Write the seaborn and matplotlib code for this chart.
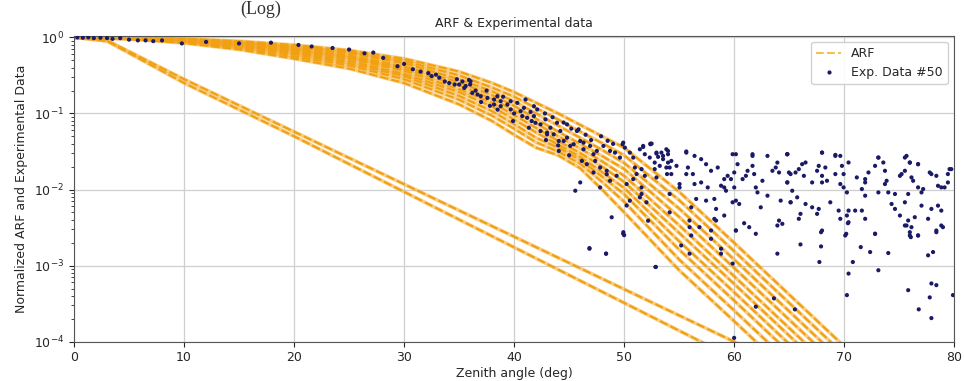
import numpy as np
import pandas as pd
import seaborn as sns
import matplotlib.pyplot as plt
from matplotlib.lines import Line2D

# ARF curves, log10 of the normalized value at these zenith angles
arf_x = [0, 5, 10, 15, 20, 25, 30, 35, 38, 40, 42, 44, 46, 48, 50, 55, 60, 65, 70]
arf_1 = [0, -0.005, -0.02, -0.05, -0.10, -0.17, -0.28, -0.45, -0.60, -0.72, -0.86, -1.00, -1.15, -1.30, -1.45, -2.03, -2.70, -3.38, -4.06]
arf_2 = [0, -0.006, -0.025, -0.06, -0.12, -0.19, -0.31, -0.50, -0.66, -0.78, -0.93, -1.08, -1.24, -1.39, -1.55, -2.14, -2.81, -3.49, -4.17]
arf_3 = [0, -0.008, -0.03, -0.07, -0.13, -0.21, -0.34, -0.55, -0.71, -0.84, -1.00, -1.16, -1.32, -1.48, -1.65, -2.25, -2.92, -3.60, -4.28]
arf_4 = [0, -0.010, -0.035, -0.08, -0.15, -0.24, -0.38, -0.59, -0.76, -0.90, -1.07, -1.24, -1.40, -1.56, -1.73, -2.36, -3.03, -3.71, -4.39]
arf_5 = [0, -0.011, -0.04, -0.09, -0.16, -0.26, -0.41, -0.63, -0.81, -0.96, -1.13, -1.30, -1.46, -1.63, -1.82, -2.47, -3.14, -3.82, -4.50]
arf_6 = [0, -0.012, -0.045, -0.10, -0.18, -0.28, -0.44, -0.68, -0.86, -1.02, -1.19, -1.36, -1.52, -1.70, -1.90, -2.57, -3.24, -3.92, -4.60]
arf_7 = [0, -0.014, -0.05, -0.11, -0.20, -0.31, -0.48, -0.72, -0.91, -1.08, -1.25, -1.41, -1.57, -1.77, -1.98, -2.68, -3.35, -4.03, -4.71]
arf_8 = [0, -0.016, -0.055, -0.12, -0.22, -0.34, -0.51, -0.77, -0.97, -1.14, -1.32, -1.45, -1.61, -1.83, -2.06, -2.79, -3.46, -4.14, -4.82]
arf_9 = [0, -0.018, -0.065, -0.14, -0.25, -0.37, -0.55, -0.82, -1.03, -1.20, -1.38, -1.50, -1.66, -1.90, -2.16, -2.92, -3.59, -4.27, -4.95]
arf_10 = [0, -0.020, -0.075, -0.16, -0.28, -0.41, -0.60, -0.88, -1.10, -1.28, -1.45, -1.55, -1.72, -2.00, -2.30, -3.06, -3.73, -4.41, -5.09]

# the two near-straight ARF curves
lin_x = [0, 3, 10, 20, 30, 40, 50, 60, 62]
lin_1 = [0, -0.04, -0.55, -1.24, -1.93, -2.62, -3.31, -4.00, -4.14]
lin_2 = [0, -0.05, -0.60, -1.30, -2.03, -2.76, -3.49, -4.22, -4.36]

# experimental data #50 (zenith angle, log10 normalized value)
exp_x = [0.3, 0.8, 1.3, 1.8, 2.4, 3.0, 3.5, 4.2, 5.0, 5.8, 6.5, 7.2, 8.0, 9.8, 12.0, 15.0, 17.9, 20.4, 21.6, 23.5,
         25.0, 26.4, 27.2, 28.1, 29.4, 30.8, 32.2, 32.5, 32.9, 33.7, 34.1, 34.6, 35.0, 35.3, 35.6, 36.0, 36.2, 35.9, 35.47, 36.04,
         36.68, 36.97, 37.58, 38.48, 39.69, 40.29, 41.04, 41.8, 42.1, 40.59, 39.69, 39.39, 41.19, 41.94, 42.4, 42.85, 43.3, 43.6, 44.2, 44.81,
         44.06, 45.41, 46.01, 46.31, 46.91, 47.52, 47.22, 48.12, 48.72, 49.17, 49.62, 49.92, 50.07, 50.52, 50.83, 51.43, 51.73, 46.16, 46.61, 47.82,
         48.42, 47.22, 45.86, 44.81, 43.9, 43.0, 42.4, 45.56, 46.01, 47.82, 48.72, 50.23, 50.83, 51.13, 51.58, 50.98, 38.18, 38.78, 40.74, 41.34,
         38.18, 38.78, 40.89, 41.8, 43.0, 44.06, 44.51, 45.1, 45.71, 46.31, 47.37, 48.42, 49.32, 50.52, 51.43, 50.23, 52.18, 48.87, 49.93, 50.0,
         46.85, 48.36, 52.88, 49.86, 52.39, 52.94, 53.54, 53.99, 54.29, 53.9, 54.14, 37.0, 37.8, 39.0, 40.0, 41.5, 42.8, 43.5, 44.5, 45.2,
         46.5, 47.0, 47.9, 48.5, 49.0, 45.0, 44.0, 42.9, 41.6, 39.9, 38.5, 36.5, 37.5, 34.8, 33.2, 31.5, 30.0,
         51.73, 52.39, 51.88, 52.33, 52.94, 53.09, 53.39, 53.84, 53.99, 53.54, 53.99, 54.14, 54.29, 53.24, 52.78, 54.76, 55.65, 56.4, 57.0, 57.45,
         57.9, 58.51, 55.8, 56.25, 55.65, 55.04, 56.4, 57.0, 57.6, 58.2, 57.45, 56.55, 56.1, 55.94, 58.36, 59.1, 58.36, 59.26, 59.1, 59.1,
         59.41, 59.71, 60.01, 60.16, 60.31, 60.01, 59.86, 60.16, 60.46, 60.77, 61.07, 61.22, 61.67, 61.67, 61.82, 62.12, 62.57, 62.42, 63.03, 63.48,
         63.78, 63.93, 64.08, 64.23, 64.08, 64.38, 64.83, 64.98, 65.13, 65.28, 64.83, 63.03, 61.97, 61.37, 60.16, 51.58, 51.88, 52.03, 51.58, 52.78,
         52.94, 53.84, 55.04, 54.14, 57.9, 56.85, 58.81, 58.2,
         64.83, 67.99, 69.2, 69.65, 66.18, 66.49, 65.88, 65.58, 65.13, 64.83, 66.34, 67.54, 67.69, 68.29, 67.99, 69.2, 67.09, 67.99, 68.44, 69.65,
         69.95, 70.25, 69.8, 70.4, 69.95, 65.13, 65.73, 66.49, 67.09, 67.69, 68.74, 66.03, 65.88, 67.54, 69.5, 69.65, 70.4, 71.0, 71.61, 70.25,
         70.4, 70.1, 67.99, 71.91, 72.81, 73.11, 72.81, 73.56, 73.71, 72.21, 71.15, 71.91, 71.91, 71.61, 71.91, 73.11, 73.71, 73.86, 74.01, 75.07,
         75.22, 74.31, 74.62, 75.07, 75.67, 75.97, 76.72, 75.52, 76.12, 76.27, 76.72, 77.03, 77.18, 77.93, 78.38, 78.53, 78.83, 79.13, 79.43, 79.74,
         75.82, 75.52, 77.03, 77.93, 78.53, 78.83, 77.63, 78.38, 75.82, 76.12, 75.67, 75.97, 76.72, 78.98, 79.43, 74.62, 76.42,
         46.85, 48.36, 52.85, 49.92, 55.95, 56.1, 55.19, 55.95, 57.9, 58.81, 58.81, 59.86, 60.16, 61.97, 60.91, 63.93, 63.93, 63.62, 61.97, 65.52,
         66.03, 67.9, 67.9, 67.75, 70.19, 70.34, 70.4, 70.25, 70.79, 71.51, 72.36, 72.81, 73.11, 74.01, 75.52, 75.97, 76.06, 76.72, 78.38, 78.83,
         77.63, 78.08, 75.82, 77.93, 78.38, 77.78, 76.78, 77.93, 79.89, 60.0,
         52.5, 55.65, 59.86, 61.67, 64.83, 67.99, 69.2, 73.11, 75.52, 75.97, 76.72, 77.78, 79.58]
exp_logy = [0.0, -0.005, 0.0, -0.01, -0.005, -0.01, -0.02, -0.01, -0.03, -0.04, -0.04, -0.05, -0.04, -0.08, -0.06, -0.08, -0.07, -0.10, -0.12, -0.14,
            -0.16, -0.21, -0.20, -0.27, -0.38, -0.42, -0.47, -0.51, -0.49, -0.58, -0.60, -0.62, -0.62, -0.58, -0.64, -0.62, -0.73, -0.56, -0.665, -0.578,
            -0.752, -0.774, -0.796, -0.774, -0.839, -0.861, -0.817, -0.905, -0.948, -0.97, -0.948, -0.883, -1.057, -1.123, -1.144, -1.078, -1.188, -1.275, -1.231, -1.319,
            -1.362, -1.405, -1.362, -1.471, -1.427, -1.493, -1.536, -1.427, -1.493, -1.515, -1.58, -1.384, -1.45, -1.515, -1.58, -1.471, -1.427, -1.624, -1.667, -1.711,
            -1.754, -1.776, -1.209, -1.144, -1.123, -1.275, -1.231, -2.016, -1.907, -1.973, -1.885, -1.928, -1.863, -1.797, -2.059, -1.711, -0.817, -0.905, -1.035, -1.188,
            -0.883, -0.839, -0.927, -1.035, -1.253, -1.493, -1.362, -1.427, -1.231, -1.384, -1.624, -1.80, -1.82, -2.147, -2.103, -2.21, -2.41, -2.365, -2.561, -2.60,
            -2.778, -2.843, -3.018, -1.405, -1.397, -1.515, -1.558, -1.493, -1.624, -1.797, -2.30, -0.85, -0.90, -0.78, -1.00, -0.98, -1.00, -1.05, -1.12, -1.20,
            -1.28, -1.35, -1.30, -1.36, -1.40, -1.55, -1.42, -1.35, -1.10, -1.10, -0.95, -0.70, -0.70, -0.55, -0.53, -0.45, -0.35,
            -1.441, -1.405, -1.536, -1.58, -1.528, -1.571, -1.515, -1.471, -1.536, -1.601, -1.646, -1.711, -1.797, -1.689, -1.646, -1.689, -1.515, -1.558, -1.601, -1.667,
            -1.754, -1.711, -1.711, -1.797, -1.797, -1.928, -1.928, -1.907, -1.973, -2.124, -2.146, -2.124, -2.234, -2.408, -2.255, -2.342, -2.408, -2.016, -1.973, -1.863,
            -1.82, -1.863, -1.776, -1.536, -1.667, -1.973, -2.168, -2.146, -2.19, -1.863, -1.82, -1.754, -1.558, -1.689, -1.797, -2.038, -1.885, -2.234, -1.558, -1.754,
            -1.711, -1.646, -1.776, -2.146, -2.408, -2.451, -1.536, -1.776, -2.168, -2.016, -1.907, -2.081, -1.973, -2.495, -2.538, -1.732, -1.82, -2.168, -1.973, -1.732,
            -1.842, -1.711, -1.973, -2.059, -2.538, -2.495, -1.95, -2.386,
            -1.536, -1.515, -1.558, -1.558, -1.667, -1.645, -1.732, -1.776, -1.797, -1.907, -1.82, -1.754, -1.689, -1.711, -1.82, -1.797, -1.907, -1.907, -1.885, -1.928,
            -1.972, -2.038, -1.689, -1.645, -1.797, -2.168, -2.103, -2.19, -2.234, -2.255, -2.168, -2.32, -2.385, -2.32, -2.277, -2.385, -2.277, -2.277, -2.277, -2.342,
            -2.43, -2.604, -2.539, -2.385, -2.582, -1.58, -1.689, -1.645, -1.754, -1.776, -1.841, -1.863, -1.907, -1.994, -2.081, -2.038, -1.928, -1.885, -2.038, -1.82,
            -1.797, -2.19, -2.255, -2.342, -1.558, -1.645, -1.667, -1.754, -1.841, -1.885, -1.972, -2.038, -1.994, -1.797, -1.82, -1.951, -1.972, -1.972, -1.907, -1.732,
            -2.059, -2.168, -2.212, -2.255, -2.212, -2.277, -2.385, -2.539, -2.407, -2.495, -2.473, -2.604, -2.604, -2.495, -1.797, -2.059, -2.364,
            -2.77, -2.843, -3.018, -2.582, -2.495, -2.604, -2.735, -2.843, -2.648, -2.778, -2.843, -2.974, -2.539, -2.582, -2.443, -2.473, -2.843, -3.431, -3.54, -3.575,
            -2.722, -2.561, -2.748, -2.953, -2.582, -2.443, -3.105, -3.388, -2.953, -2.757, -2.822, -2.582, -3.061, -2.835, -2.473, -2.561, -2.626, -2.604, -2.561, -2.473,
            -2.865, -2.822, -3.323, -3.235, -3.257, -3.418, -3.575, -3.69, -3.388, -3.95,
            -1.397, -1.50, -1.536, -1.536, -1.536, -1.515, -1.545, -1.58, -1.58, -1.646, -1.667, -1.776, -1.732]

arf_curves = [arf_1, arf_2, arf_3, arf_4, arf_5, arf_6, arf_7, arf_8, arf_9, arf_10]
rows = []
for i, c in enumerate(arf_curves):
    for x, v in zip(arf_x, c):
        rows.append((i, x, 10 ** v))
for i, c in enumerate([lin_1, lin_2]):
    for x, v in zip(lin_x, c):
        rows.append((20 + i, x, 10 ** v))
arf_df = pd.DataFrame(rows, columns=['curve', 'angle', 'value'])
exp_df = pd.DataFrame({'angle': exp_x, 'value': 10 ** np.array(exp_logy)})

sns.set_style('ticks')
arf_color = '#f0a010'
dot_color = '#1a1a66'

fig = plt.figure(figsize=(9.64, 3.81), dpi=100)
ax = fig.add_axes([0.0768, 0.1032, 0.913, 0.803])

# solid orange under a dashed line gives the thick banded look of the original
sns.lineplot(data=arf_df, x='angle', y='value', units='curve', estimator=None,
             color='#f5a623', alpha=0.55, linewidth=2.6, ax=ax, legend=False)
sns.lineplot(data=arf_df, x='angle', y='value', units='curve', estimator=None,
             color=arf_color, linestyle=(0, (4, 1.5)), linewidth=1.5, ax=ax, legend=False)
sns.scatterplot(data=exp_df, x='angle', y='value', color=dot_color, s=9,
                edgecolor='none', ax=ax, legend=False, zorder=3)

ax.set_yscale('log')
ax.set_xlim(0, 80)
ax.set_ylim(1e-4, 1.05)
ax.grid(True, which='major', color='#cfcfcf', linewidth=0.9)
ax.tick_params(labelsize=9)
for s in ax.spines.values():
    s.set_color('#555555')

ax.set_title('ARF & Experimental data', fontsize=9)
ax.set_xlabel('Zenith angle (deg)', fontsize=9, labelpad=2)
ax.set_ylabel('Normalized ARF and Experimental Data', fontsize=9)

handles = [Line2D([], [], color='#f2c14e', linestyle='--', linewidth=1.5),
           Line2D([], [], color=dot_color, marker='.', linestyle='none', markersize=4)]
ax.legend(handles, ['ARF', 'Exp. Data #50'], loc='upper right', fontsize=9,
          frameon=True, fancybox=True, framealpha=0.9)

# caption fragment above the chart
fig.text(0.27, 0.998, '(Log)', fontsize=13, family='Liberation Serif',
         ha='center', va='top', color='#333333')

fig.savefig('out.png', dpi=100)
